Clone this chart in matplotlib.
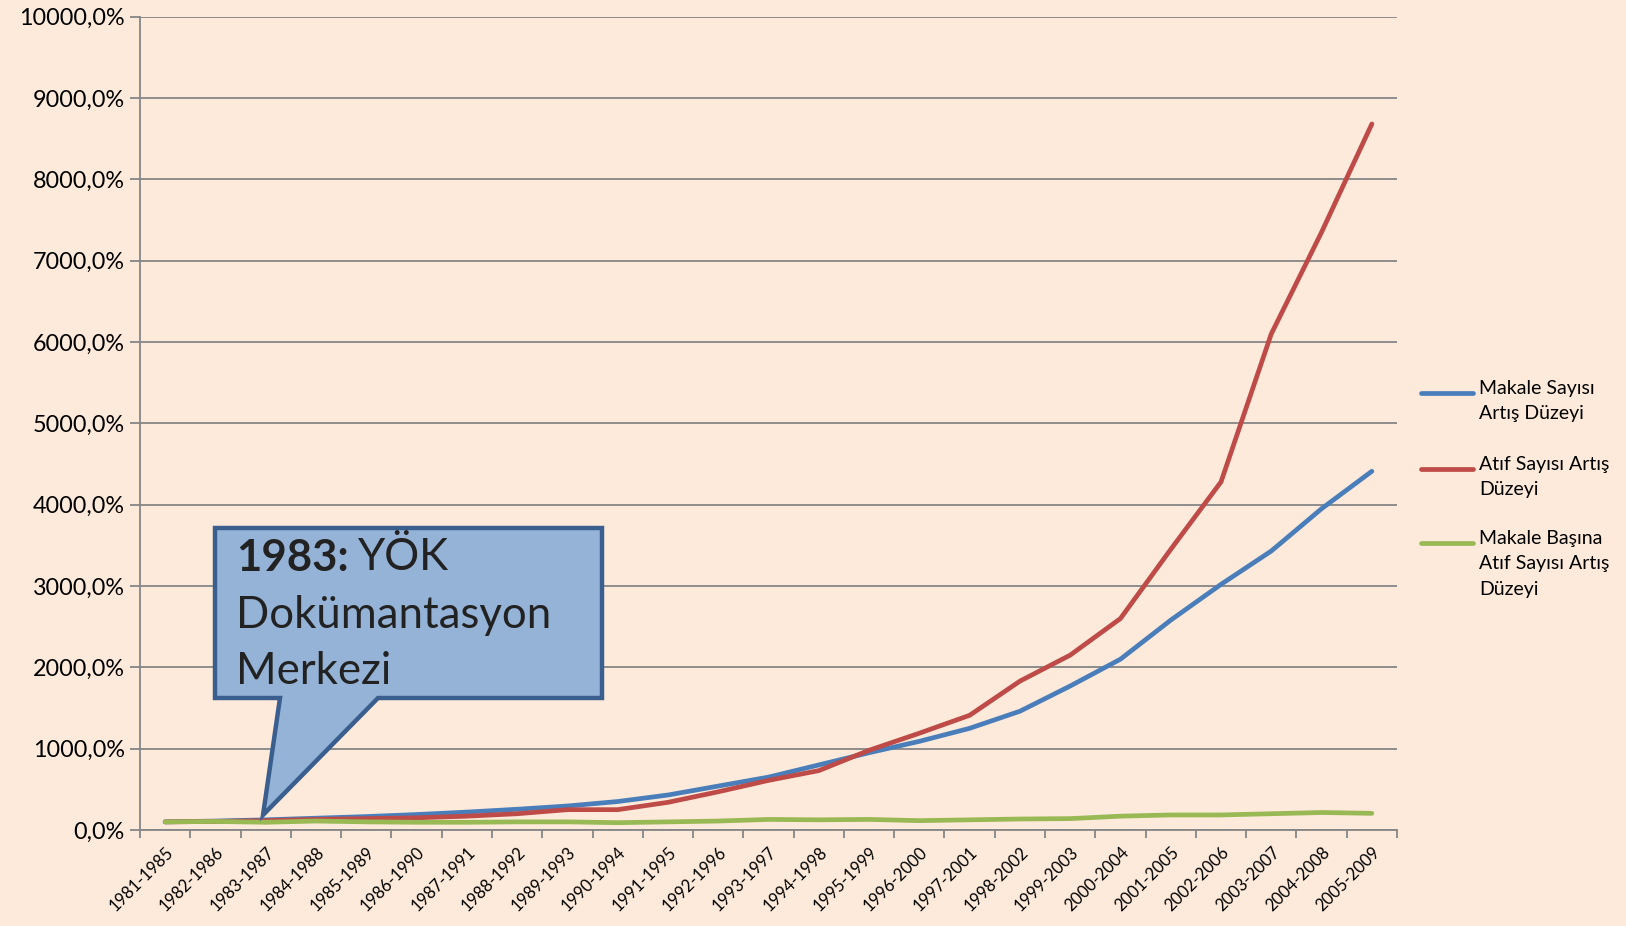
import matplotlib
matplotlib.use("Agg")
import matplotlib.pyplot as plt
from matplotlib.patches import Polygon
from matplotlib.lines import Line2D
from matplotlib.ticker import FuncFormatter

periods = ["1981-1985", "1982-1986", "1983-1987", "1984-1988", "1985-1989", "1986-1990",
           "1987-1991", "1988-1992", "1989-1993", "1990-1994", "1991-1995", "1992-1996",
           "1993-1997", "1994-1998", "1995-1999", "1996-2000", "1997-2001", "1998-2002",
           "1999-2003", "2000-2004", "2001-2005", "2002-2006", "2003-2007", "2004-2008",
           "2005-2009"]
makale = [100, 110, 125, 145, 165, 190, 220, 255, 295, 350, 430, 540, 650, 800, 950,
          1090, 1250, 1460, 1770, 2100, 2580, 3020, 3430, 3950, 4410]
atif = [100, 105, 115, 130, 140, 150, 170, 200, 250, 250, 340, 470, 610, 730, 980,
        1190, 1410, 1830, 2150, 2600, 3450, 4280, 6100, 7350, 8680]
basina = [100, 105, 95, 110, 100, 95, 95, 100, 100, 90, 100, 110, 130, 125, 130,
          115, 125, 135, 140, 170, 185, 185, 200, 215, 205]
labels = ["Makale Sayısı\nArtış Düzeyi", "Atıf Sayısı Artış\nDüzeyi",
          "Makale Başına\nAtıf Sayısı Artış\nDüzeyi"]
colors = ["#4A7EBB", "#BE4B48", "#98B954"]

FONT = "Lato"
BG = "#FDEADA"
W, H = 1626, 926
fig = plt.figure(figsize=(W / 100, H / 100), dpi=100, facecolor=BG)
ax = fig.add_axes([140 / W, 1 - 830 / H, (1397 - 140) / W, (830 - 16.6) / H])
ax.set_facecolor(BG)

x = list(range(len(periods)))
for ys, c in zip([makale, atif, basina], colors):
    ax.plot(x, ys, color=c, lw=3.4, solid_capstyle="round", solid_joinstyle="round", zorder=3)

ax.set_xlim(-0.5, len(periods) - 0.5)
ax.set_ylim(0, 10000)
ax.set_yticks(range(0, 10001, 1000))
ax.yaxis.set_major_formatter(FuncFormatter(lambda v, p: f"{v:.1f}%".replace(".", ",")))
ax.grid(axis="y", color="#868686", lw=1.3, zorder=1)
ax.set_axisbelow(True)
ax.set_xticks([i - 0.5 for i in range(len(periods) + 1)], minor=False)
ax.set_xticklabels([])
ax.set_xticks(x, minor=True)
ax.set_xticklabels(periods, minor=True, rotation=45, ha="right", va="top",
                   rotation_mode="anchor", fontsize=12, family=FONT)
ax.tick_params(axis="x", which="minor", length=0, pad=10)
ax.tick_params(axis="x", which="major", length=6, width=1.3, color="#868686")
ax.tick_params(axis="y", length=7, width=1.3, color="#868686", labelsize=16.8, pad=4)
for lab in ax.get_yticklabels():
    lab.set_family(FONT)
for s in ["top", "right"]:
    ax.spines[s].set_visible(False)
for s in ["left", "bottom"]:
    ax.spines[s].set_color("#868686")
    ax.spines[s].set_linewidth(1.3)

# legend (manual)
leg_y = [393, 469, 543]
for yy, c, lab in zip(leg_y, colors, labels):
    fig.add_artist(Line2D([1421 / W, 1473 / W], [1 - yy / H, 1 - yy / H], color=c, lw=3.4,
                          solid_capstyle="round"))
    fig.text(1479 / W, 1 - (yy - 13) / H, lab, fontsize=14, family=FONT, va="top",
             ha="left", linespacing=1.6, color="black")

# callout
pts = [(215, 528), (602, 528), (602, 698), (378, 698), (263, 815), (280, 698), (215, 698)]
poly = Polygon([(px / W, 1 - py / H) for px, py in pts], closed=True, transform=fig.transFigure,
               facecolor="#95B3D7", edgecolor="#3A5F8E", lw=3.2, joinstyle="miter", zorder=5)
fig.add_artist(poly)
fs = 31.5
t1 = fig.text(236 / W, 1 - 558 / H, "1983:", fontsize=fs, family=FONT, weight="bold",
              va="center", ha="left", color="#222222", zorder=6)
fig.canvas.draw()
bb = t1.get_window_extent(fig.canvas.get_renderer())
fig.text(bb.x1 / W + 9 / W, 1 - 558 / H, "YÖK", fontsize=fs, family=FONT, va="center",
         ha="left", color="#222222", zorder=6)
fig.text(236 / W, 1 - 615 / H, "Dokümantasyon", fontsize=fs, family=FONT, va="center",
         ha="left", color="#222222", zorder=6)
fig.text(236 / W, 1 - 672 / H, "Merkezi", fontsize=fs, family=FONT, va="center",
         ha="left", color="#222222", zorder=6)

fig.savefig("out.png", dpi=100, facecolor=BG)
